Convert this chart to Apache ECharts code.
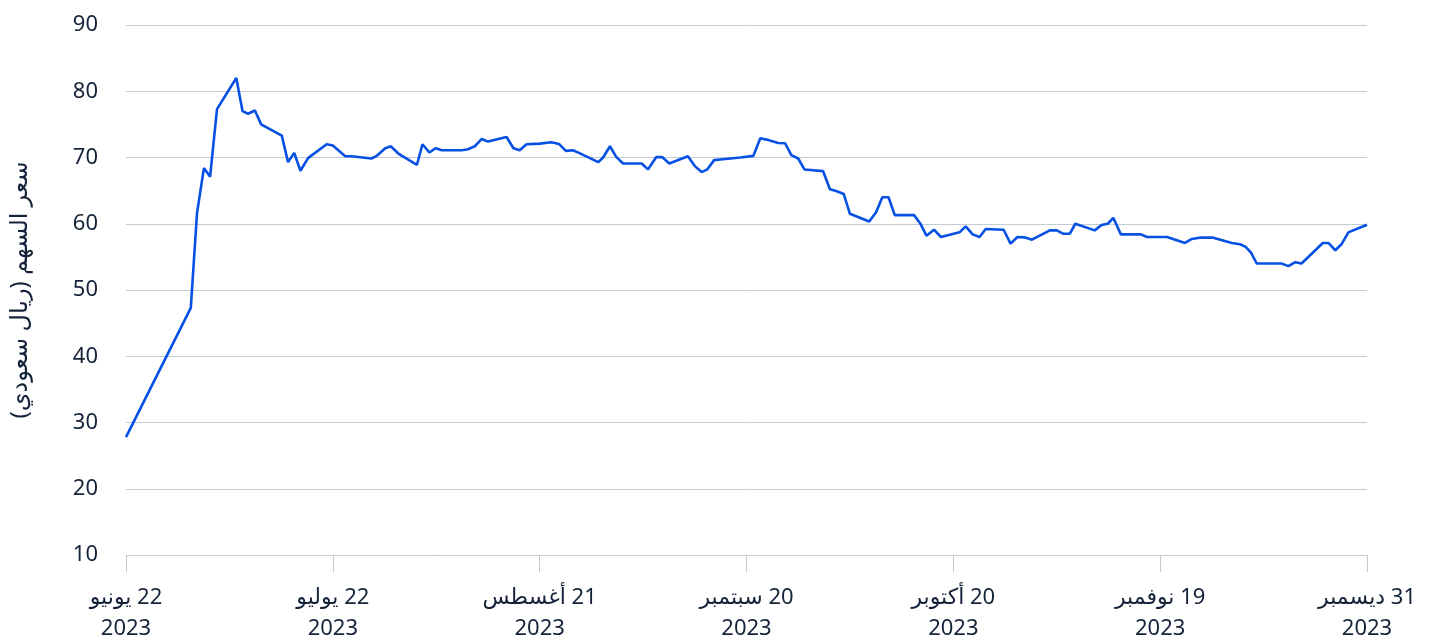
<!DOCTYPE html>
<html>
<head>
<meta charset="utf-8">
<script src="https://cdn.jsdelivr.net/npm/echarts@6/dist/echarts.min.js"></script>
<style>
  html, body { margin: 0; padding: 0; background: #fff; }
  #chart { width: 1437px; height: 639px; }
</style>
</head>
<body>
<div id="chart"></div>
<script>
// days since 22 June 2023 (axis units)
const days = [
  0, 9.4, 10.3, 11.3, 12.2, 13.2, 16.0, 16.9, 17.7, 18.7, 19.6, 22.6, 23.5, 24.4, 25.3, 26.4, 29.1, 30.0,
  31.8, 32.7, 35.6, 36.3, 37.6, 38.4, 39.5, 42.2, 43.0, 44.0, 44.9, 45.8, 48.7, 49.6, 50.6, 51.6, 52.5,
  55.2, 56.2, 57.1, 58.1, 60.0, 61.7, 62.8, 63.8, 64.8, 65.7, 68.5, 69.2, 70.2, 71.1, 72.1, 74.8, 75.7,
  76.9, 77.8, 78.8, 81.5, 82.5, 83.5, 84.3, 85.3, 86.2, 89.1, 91.0, 92.0, 92.9, 94.6, 95.6, 96.5, 97.5,
  98.4, 101.1, 102.1, 103.1, 104.1, 105.0, 107.8, 108.8, 109.7, 110.6, 111.5, 114.3, 115.2, 116.1, 117.2,
  118.2, 120.9, 121.8, 122.8, 123.8, 124.7, 127.3, 128.3, 129.3, 130.3, 131.4, 134.0, 135.0, 135.9, 136.9,
  137.7, 140.5, 141.5, 142.4, 143.2, 144.3, 147.2, 148.1, 151.0, 153.6, 154.6, 155.7, 157.7, 160.4, 161.6,
  162.4, 163.2, 164.0, 167.6, 168.6, 169.6, 170.5, 173.6, 174.4, 175.4, 176.3, 177.3, 180.0
];
const prices = [
  27.8, 47.3, 61.6, 68.4, 67.1, 77.3, 82.0, 77.0, 76.6, 77.1, 75.0, 73.3, 69.3, 70.7, 68.0, 69.9, 72.0, 71.8,
  70.2, 70.2, 69.85, 70.2, 71.4, 71.7, 70.6, 68.9, 72.0, 70.75, 71.4, 71.1, 71.1, 71.25, 71.7, 72.8, 72.4,
  73.1, 71.4, 71.1, 72.0, 72.1, 72.3, 72.05, 71.0, 71.1, 70.7, 69.3, 70.0, 71.7, 70.1, 69.1, 69.1, 68.2,
  70.05, 70.05, 69.1, 70.2, 68.7, 67.8, 68.2, 69.6, 69.7, 70.0, 70.25, 72.9, 72.7, 72.2, 72.15, 70.35, 69.85,
  68.2, 67.95, 65.2, 64.9, 64.5, 61.5, 60.35, 61.75, 64.0, 64.0, 61.3, 61.3, 60.05, 58.2, 59.1,
  58.0, 58.7, 59.6, 58.4, 58.0, 59.2, 59.1, 57.0, 58.0, 57.95, 57.6, 59.0, 59.0, 58.5, 58.5,
  60.0, 59.0, 59.8, 60.0, 60.9, 58.4, 58.4, 58.0, 58.0, 57.1, 57.7, 57.9, 57.9, 57.1, 56.9,
  56.5, 55.6, 54.0, 54.0, 53.6, 54.2, 54.0, 57.1, 57.1, 56.0, 56.9, 58.7, 59.85
];

const tickLabels = ['22 يونيو', '22 يوليو', '21 أغسطس', '20 سبتمبر', '20 أكتوبر', '19 نوفمبر', '31 ديسمبر'];
const tickYear = '2023';
const yTitle = 'سعر السهم (ريال سعودي)';

const RLM = '\u200F';
const font = '"Noto Sans", "DejaVu Sans", sans-serif';
const textColor = '#15233a';
const gridColor = '#c4cad2';

const chart = echarts.init(document.getElementById('chart'));

chart.setOption({
  animation: false,
  grid: { left: 126, right: 70, top: 25, bottom: 84, outerBoundsMode: 'none' },
  xAxis: {
    type: 'value',
    min: 0,
    max: 180,
    interval: 30,
    axisLine: { show: true, lineStyle: { color: gridColor, width: 1 } },
    axisTick: { show: true, length: 17, lineStyle: { color: gridColor, width: 1 } },
    splitLine: { show: false },
    axisLabel: {
      margin: 27,
      color: textColor,
      fontFamily: font,
      fontSize: 22,
      lineHeight: 31,
      formatter: (v) => {
        const i = Math.round(v / 30);
        return RLM + tickLabels[i] + '\n' + tickYear;
      }
    }
  },
  yAxis: {
    type: 'value',
    min: 10,
    max: 90,
    interval: 10,
    name: RLM + yTitle + RLM,
    nameLocation: 'middle',
    nameRotate: 90,
    nameGap: 94,
    nameTextStyle: { color: textColor, fontFamily: font, fontSize: 24 },
    axisLine: { show: false },
    axisTick: { show: false },
    splitLine: { lineStyle: { color: gridColor, width: 1 } },
    axisLabel: { margin: 28, color: textColor, fontFamily: font, fontSize: 22 }
  },
  series: [{
    type: 'line',
    data: days.map((d, i) => [d, prices[i]]),
    showSymbol: false,
    symbol: 'none',
    lineStyle: { color: '#0650e4', width: 2.6 },
    silent: true
  }]
});

window.addEventListener('resize', () => {
  chart.resize();
});
</script>
</body>
</html>
